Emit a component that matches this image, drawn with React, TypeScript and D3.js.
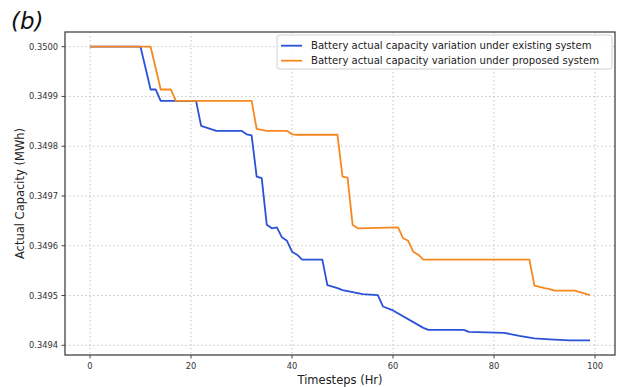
import React from "react";
import * as d3 from "d3";

const existingT = [0, 10, 12, 13, 14, 21, 22, 25, 30, 31, 32, 33, 34, 35, 36, 37, 38, 39, 40, 41, 42, 46, 47, 49, 50, 54, 57, 58, 60, 66, 67, 74, 75, 82, 85, 88, 91, 95, 99];
const existingV = [0.35, 0.35, 0.349914, 0.349914, 0.349891, 0.349891, 0.349841, 0.349831, 0.349831, 0.349824, 0.349822, 0.349739, 0.349736, 0.349642, 0.349635, 0.349637, 0.349617, 0.34961, 0.349588, 0.349582, 0.349572, 0.349572, 0.349521, 0.349515, 0.349511, 0.349503, 0.349501, 0.349478, 0.34947, 0.349435, 0.349431, 0.349431, 0.349427, 0.349425, 0.349419, 0.349414, 0.349412, 0.34941, 0.34941];

const proposedT = [0, 12, 14, 16, 17, 32, 33, 35, 39, 40, 41, 49, 50, 51, 52, 53, 61, 62, 63, 64, 65, 66, 87, 88, 90, 91, 92, 96, 99];
const proposedV = [0.35, 0.35, 0.349914, 0.349914, 0.349891, 0.349891, 0.349835, 0.349831, 0.349831, 0.349824, 0.349823, 0.349823, 0.349739, 0.349737, 0.349642, 0.349635, 0.349637, 0.349615, 0.34961, 0.349588, 0.349582, 0.349572, 0.349572, 0.34952, 0.349515, 0.349513, 0.34951, 0.34951, 0.349501];

const xTicks = [0, 20, 40, 60, 80, 100];
const yTicks = [0.3494, 0.3495, 0.3496, 0.3497, 0.3498, 0.3499, 0.35];

const seriesNames = [
  "Battery actual capacity variation under existing system",
  "Battery actual capacity variation under proposed system",
];
const seriesColors = ["#2a52d9", "#f7871f"];

const W = 620, H = 387;
const M = { left: 65, right: 615, top: 32, bottom: 355 };
const FONT = "DejaVu Sans, sans-serif";

export default function App() {
  const allV = [...existingV, ...proposedV];
  const vMin = d3.min(allV)!, vMax = d3.max(allV)!;
  const pad = (vMax - vMin) * 0.05;
  const x = d3.scaleLinear().domain([-4.95, 103.95]).range([M.left, M.right]);
  const y = d3.scaleLinear().domain([vMin - pad, vMax + pad]).range([M.bottom, M.top]);

  const line = d3
    .line<[number, number]>()
    .x((d) => x(d[0]))
    .y((d) => y(d[1]));

  const series = [
    existingT.map((t, i) => [t, existingV[i]] as [number, number]),
    proposedT.map((t, i) => [t, proposedV[i]] as [number, number]),
  ];

  const gridColor = "#c4c4c4";
  const textColor = "#333";

  return (
    <svg width={W} height={H} style={{ position: "absolute", left: 0, top: 0, background: "#fff" }} fontFamily={FONT}>
      <rect x={0} y={0} width={W} height={H} fill="#fff" />
      <text x={11} y={29} fontSize={23} fontStyle="italic" fill="#111">(b)</text>

      {/* grid */}
      {xTicks.map((t) => (
        <line key={"gx" + t} x1={x(t)} x2={x(t)} y1={M.top} y2={M.bottom} stroke={gridColor} strokeWidth={1} strokeDasharray="1.5,2.5" />
      ))}
      {yTicks.map((t) => (
        <line key={"gy" + t} x1={M.left} x2={M.right} y1={y(t)} y2={y(t)} stroke={gridColor} strokeWidth={1} strokeDasharray="1.5,2.5" />
      ))}

      {/* lines */}
      {series.map((s, i) => (
        <path key={"s" + i} d={line(s)!} fill="none" stroke={seriesColors[i]} strokeWidth={1.8} strokeLinejoin="round" />
      ))}

      {/* frame */}
      <rect x={M.left} y={M.top} width={M.right - M.left} height={M.bottom - M.top} fill="none" stroke="#444" strokeWidth={1.3} />

      {/* x ticks */}
      {xTicks.map((t) => (
        <g key={"xt" + t}>
          <line x1={x(t)} x2={x(t)} y1={M.bottom} y2={M.bottom + 3.5} stroke="#444" strokeWidth={1} />
          <text x={x(t)} y={M.bottom + 14} fontSize={8.3} textAnchor="middle" fill={textColor}>{t}</text>
        </g>
      ))}
      {/* y ticks */}
      {yTicks.map((t) => (
        <g key={"yt" + t}>
          <line x1={M.left - 3.5} x2={M.left} y1={y(t)} y2={y(t)} stroke="#444" strokeWidth={1} />
          <text x={M.left - 7} y={y(t) + 3} fontSize={8.3} textAnchor="end" fill={textColor}>{t.toFixed(4)}</text>
        </g>
      ))}

      <text x={(M.left + M.right) / 2} y={384} fontSize={11.5} textAnchor="middle" fill="#222">Timesteps (Hr)</text>
      <text transform={`translate(24,${(M.top + M.bottom) / 2}) rotate(-90)`} fontSize={11.5} textAnchor="middle" fill="#222">Actual Capacity (MWh)</text>

      {/* legend */}
      <rect x={277} y={35} width={335} height={34} rx={2.5} fill="#fff" fillOpacity={0.85} stroke="#d0d0d0" strokeWidth={1} />
      {seriesNames.map((n, i) => (
        <g key={"lg" + i}>
          <line x1={281} x2={302} y1={45.7 + i * 15} y2={45.7 + i * 15} stroke={seriesColors[i]} strokeWidth={1.8} />
          <text x={311} y={49.3 + i * 15} fontSize={10.1} fill="#222">{n}</text>
        </g>
      ))}
    </svg>
  );
}
